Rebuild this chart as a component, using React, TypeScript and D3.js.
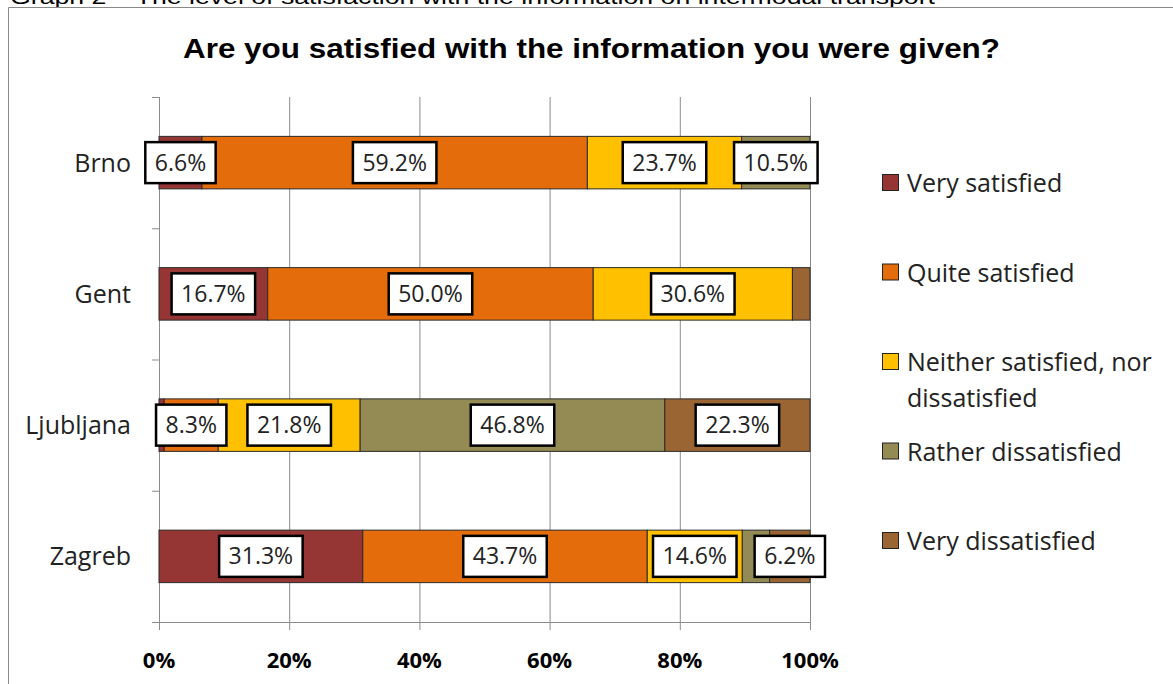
import React from "react";
import * as d3 from "d3";

const caption = "Graph 2 – The level of satisfaction with the information on intermodal transport";
const title = "Are you satisfied with the information you were given?";
const cities = ["Brno", "Gent", "Ljubljana", "Zagreb"];
const seriesNames = [
  "Very satisfied",
  "Quite satisfied",
  "Neither satisfied, nor dissatisfied",
  "Rather dissatisfied",
  "Very dissatisfied",
];
const legendLines = [
  ["Very satisfied"],
  ["Quite satisfied"],
  ["Neither satisfied, nor", "dissatisfied"],
  ["Rather dissatisfied"],
  ["Very dissatisfied"],
];
const colors = ["#963634", "#E46C0A", "#FFC000", "#948A54", "#9A6533"];
const verySatisfied = [6.6, 16.7, 0.8, 31.3];
const quiteSatisfied = [59.2, 50.0, 8.3, 43.7];
const neither = [23.7, 30.6, 21.8, 14.6];
const ratherDissatisfied = [10.5, 0, 46.8, 4.2];
const veryDissatisfied = [0, 2.7, 22.3, 6.2];
const xTicks = [0, 20, 40, 60, 80, 100];
const labelThreshold = 5;

const FONT = "'Open Sans', Lato, sans-serif";

let ctx: CanvasRenderingContext2D | null = null;
function measure(s: string, font: string, fallback: number) {
  try {
    if (!ctx) ctx = document.createElement("canvas").getContext("2d");
    if (ctx) {
      ctx.font = font;
      return ctx.measureText(s).width;
    }
  } catch (e) {}
  return fallback;
}

export default function App() {
  const W = 1173;
  const H = 684;
  const left = 159;
  const right = 810;
  const top = 97;
  const bottom = 622;

  const rows = cities.map((c, i) => ({
    city: c,
    values: [verySatisfied[i], quiteSatisfied[i], neither[i], ratherDissatisfied[i], veryDissatisfied[i]],
  }));

  const x = d3.scaleLinear().domain([0, 100]).range([left, right]);
  const y = d3.scaleBand<string>().domain(cities).range([top, bottom]).paddingInner(0.6).paddingOuter(0.3);
  const step = y.step();

  const segs: { city: string; k: number; x0: number; x1: number; v: number }[] = [];
  rows.forEach((r) => {
    let acc = 0;
    r.values.forEach((v, k) => {
      segs.push({ city: r.city, k, x0: acc, x1: acc + v, v });
      acc += v;
    });
  });

  const labelFont = 23;
  const textFont = 25;
  const legendX = 882;
  const legendY0 = 183;
  const legendStep = 89.5;
  const catBoundaries = d3.range(cities.length + 1).map((i) => top + i * step);

  return (
    <div style={{ position: "absolute", left: 0, top: 0 }}>
      <svg width={W} height={H} style={{ display: "block", background: "#fff" }}>
        <rect x={0} y={0} width={W} height={H} fill="#fff" />
        <text x={10} y={4} fontFamily="'Liberation Sans', Arial, sans-serif" fontSize={20} textLength={925} lengthAdjust="spacingAndGlyphs" fill="#000">
          {caption}
        </text>
        <line x1={8.5} y1={7.5} x2={W} y2={7.5} stroke="#888" strokeWidth={1} />
        <line x1={8.5} y1={7.5} x2={8.5} y2={H} stroke="#888" strokeWidth={1} />

        <text x={591.5} y={58} textAnchor="middle" fontFamily="'Liberation Sans', Arial, sans-serif" fontWeight="bold" fontSize={28} textLength={817} lengthAdjust="spacingAndGlyphs" fill="#000">
          {title}
        </text>

        {xTicks.slice(1).map((t) => (
          <line key={"g" + t} x1={x(t) + 0.5} x2={x(t) + 0.5} y1={top} y2={bottom + 8} stroke="#8c8c8c" strokeWidth={1} />
        ))}
        <line x1={left + 0.5} x2={left + 0.5} y1={top} y2={bottom + 8} stroke="#8c8c8c" strokeWidth={1} />
        {catBoundaries.map((b, i) => (
          <line key={"yt" + i} x1={left - 7} x2={left} y1={b + 0.5} y2={b + 0.5} stroke="#8c8c8c" strokeWidth={1} />
        ))}
        <line x1={left - 7} x2={right} y1={bottom + 0.5} y2={bottom + 0.5} stroke="#8c8c8c" strokeWidth={1} />

        {xTicks.map((t) => (
          <text key={"xl" + t} x={x(t)} y={668} textAnchor="middle" fontFamily={FONT} fontWeight="bold" fontSize={22} fill="#000">
            {t + "%"}
          </text>
        ))}

        {cities.map((c) => (
          <text key={"cl" + c} x={131} y={(y(c) as number) + y.bandwidth() / 2 + 9} textAnchor="end" fontFamily={FONT} fontSize={textFont} fill="#222">
            {c}
          </text>
        ))}

        {segs.filter((s) => s.v > 0).map((s, i) => (
          <rect
            key={"s" + i}
            x={x(s.x0)}
            y={y(s.city) as number}
            width={x(s.x1) - x(s.x0)}
            height={y.bandwidth()}
            fill={colors[s.k]}
            stroke="#2b2b2b"
            strokeWidth={1}
          />
        ))}

        {segs.filter((s) => s.v >= labelThreshold).map((s, i) => {
          const label = s.v.toFixed(1) + "%";
          const tw = measure(label, `${labelFont}px 'Open Sans'`, label.length * 12.5);
          const bw = tw + 19;
          const bh = 41;
          const cx = (x(s.x0) + x(s.x1)) / 2;
          const cy = (y(s.city) as number) + y.bandwidth() / 2;
          return (
            <g key={"l" + i}>
              <rect x={cx - bw / 2} y={cy - bh / 2} width={bw} height={bh} fill="#fff" stroke="#000" strokeWidth={2.5} />
              <text x={cx} y={cy + 8} textAnchor="middle" fontFamily={FONT} fontSize={labelFont} fill="#222">
                {label}
              </text>
            </g>
          );
        })}

        {seriesNames.map((n, k) => {
          const ly = legendY0 + k * legendStep;
          return (
            <g key={"lg" + k}>
              <rect x={legendX + 0.5} y={ly - 8.5} width={16} height={16} fill={colors[k]} stroke="#222" strokeWidth={1} />
              {legendLines[k].map((ln, j) => (
                <text key={j} x={907} y={ly + 9 + j * 36} fontFamily={FONT} fontSize={textFont} fill="#222">
                  {ln}
                </text>
              ))}
            </g>
          );
        })}
      </svg>
    </div>
  );
}
